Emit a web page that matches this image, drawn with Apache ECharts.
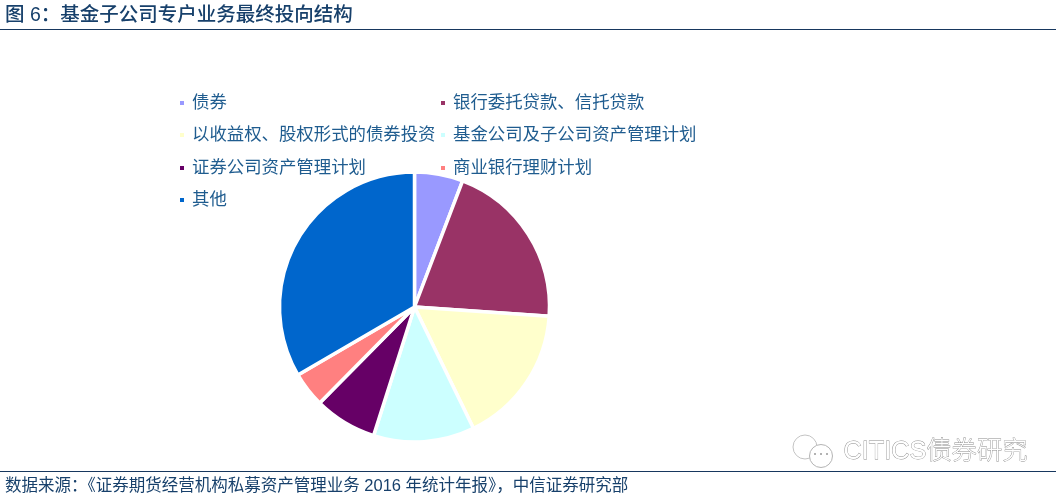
<!DOCTYPE html>
<html><head><meta charset="utf-8">
<style>html,body{margin:0;padding:0;background:#fff}#c{width:1061px;height:499px}</style>
<script src="https://cdn.jsdelivr.net/npm/echarts@6/dist/echarts.min.js"></script>
</head><body><div id="c"></div>
<script>
const categories = ['债券','银行委托贷款、信托贷款','以收益权、股权形式的债券投资','基金公司及子公司资产管理计划','证券公司资产管理计划','商业银行理财计划','其他'];
const values = [5.8,20.3,16.7,12.1,7.5,4.2,33.4];
const colors = ['#9999ff','#993366','#ffffcc','#ccffff','#660066','#ff8080','#0066cc'];
const legendLeft = [178,439,178,439,178,439,178];
const legendTop = [93,93,125,125,158,158,190];
const font = '"Liberation Sans","Noto Sans CJK SC",sans-serif';
const textColor = '#1f5c8f';
const chart = echarts.init(document.getElementById('c'), null, {renderer:'canvas'});
chart.setOption({
  animation:false,
  backgroundColor:'#fff',
  title:[
    {text:'图 6：基金子公司专户业务最终投向结构',left:5,top:4,padding:0,textStyle:{fontFamily:font,fontSize:19.5,fontWeight:500,color:'#17406b',lineHeight:24}},
    {text:'数据来源：《证券期货经营机构私募资产管理业务 2016 年统计年报》，中信证券研究部',left:5,top:477,padding:0,textStyle:{fontFamily:font,fontSize:16.5,fontWeight:400,color:'#17406b',lineHeight:18}}
  ],
  legend:categories.map((n,i)=>({
    show:true,data:[n],left:legendLeft[i],top:legendTop[i],padding:0,orient:'horizontal',
    icon:'rect',itemWidth:6,itemHeight:6,itemGap:0,selectedMode:false,
    textStyle:{fontFamily:font,fontSize:17.4,color:textColor,padding:[0,0,0,2],lineHeight:20}
  })),
  series:[{
    type:'pie',center:[414.5,307],radius:[0,135],startAngle:90,clockwise:true,
    label:{show:false},labelLine:{show:false},silent:true,
    itemStyle:{borderColor:'#fff',borderWidth:3.5},
    data:categories.map((n,i)=>({name:n,value:values[i],itemStyle:{color:colors[i]}}))
  }],
  graphic:[
    {type:'rect',silent:true,shape:{x:0,y:29,width:1056,height:1},style:{fill:'#17375e'}},
    {type:'rect',silent:true,shape:{x:0,y:471,width:1056,height:1},style:{fill:'#17375e'}},
    {type:'text',silent:true,left:843,top:439,style:{text:'CITICS债券研究',fontFamily:font,fontSize:25.3,fontWeight:300,fill:'#fff',stroke:'#8c8c8c',lineWidth:0.8}},
    {type:'circle',silent:true,shape:{cx:805,cy:447,r:12},style:{fill:'#fff',stroke:'#c4c4c4',lineWidth:1}},
    {type:'circle',silent:true,shape:{cx:821,cy:456,r:11.5},style:{fill:'#fff',stroke:'#b4b4b4',lineWidth:1}},
    {type:'circle',silent:true,shape:{cx:815,cy:454,r:1},style:{fill:'#999'}},
    {type:'circle',silent:true,shape:{cx:821,cy:454,r:1},style:{fill:'#999'}},
    {type:'circle',silent:true,shape:{cx:827,cy:454,r:1},style:{fill:'#999'}}
  ]
});
</script></body></html>
